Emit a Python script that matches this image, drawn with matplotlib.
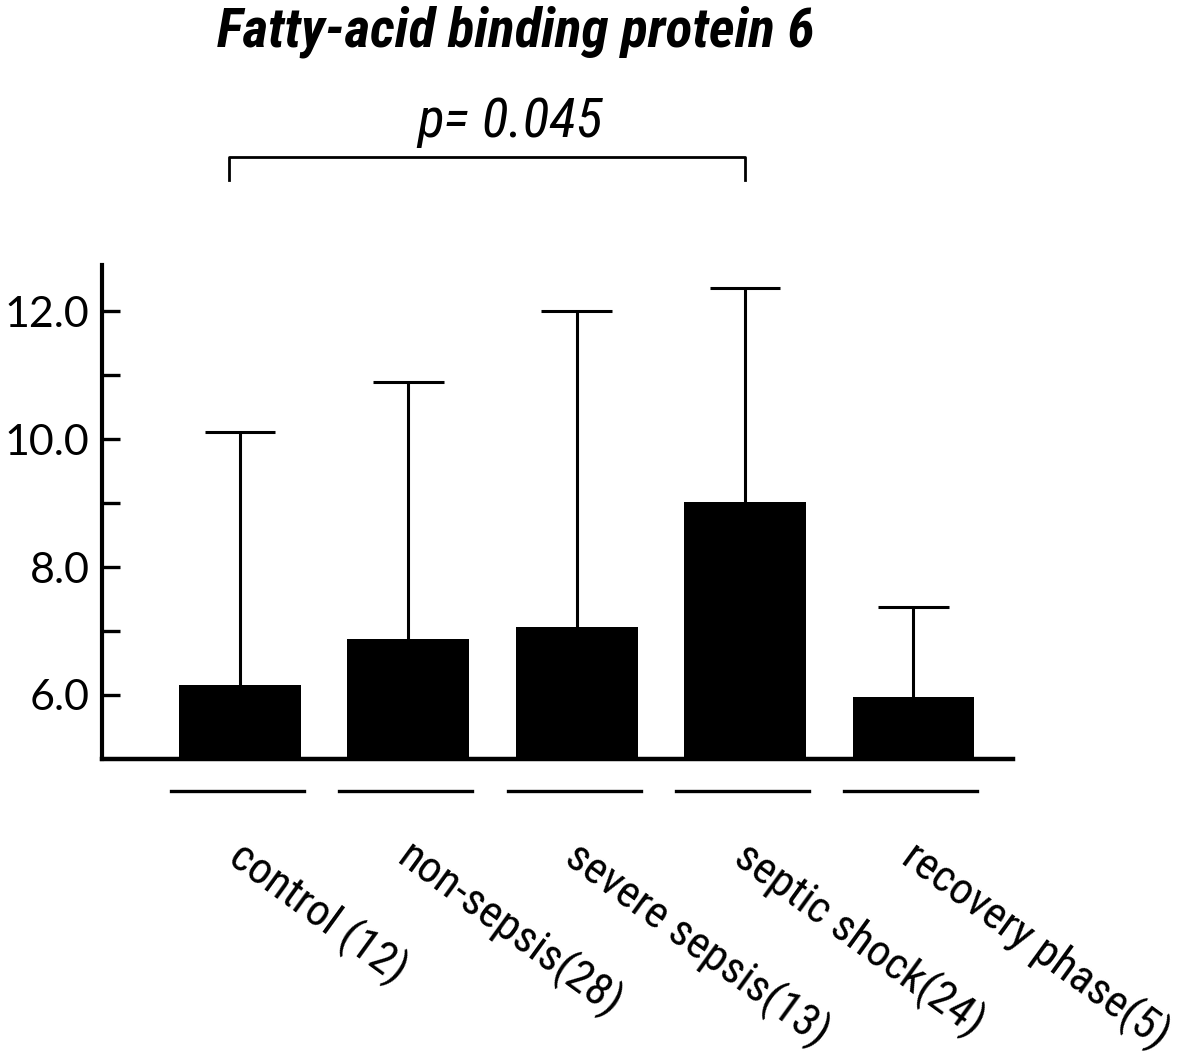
import matplotlib
matplotlib.use("Agg")
import matplotlib.pyplot as plt
import matplotlib.transforms as mtransforms
from matplotlib import font_manager
from matplotlib.font_manager import FontProperties

categories = ["control (12)", "non-sepsis(28)", "severe sepsis(13)", "septic shock(24)", "recovery phase(5)"]
means = [6.15, 6.87, 7.06, 9.02, 5.97]
upper = [10.11, 10.89, 12.0, 12.36, 7.37]
yticks_major = [6.0, 8.0, 10.0, 12.0]
yticks_minor = [7.0, 9.0, 11.0]
ytick_labels = ["6.0", "8.0", "10.0", "12.0"]
title = "Fatty-acid binding protein 6"
p_text = "p= 0.045"

fl = font_manager.fontManager.ttflist


def is_narrow(f):
    n = f.name.lower()
    return ("narrow" in n or "condensed" in n or str(f.stretch) in
            ("condensed", "semi-condensed", "extra-condensed", "ultra-condensed") or
            (isinstance(f.stretch, int) and f.stretch < 500))


def wnum(w):
    try:
        return int(w)
    except Exception:
        return {"bold": 700, "normal": 400, "regular": 400}.get(str(w), 400)


def pick(weight, style):
    pref = ["liberation sans narrow", "roboto condensed", "open sans condensed",
            "dejavu sans", "noto sans", "open sans", "roboto"]
    cands = [f for f in fl if is_narrow(f) and "mono" not in f.name.lower()
             and "serif" not in f.name.lower().replace("sans", "")]
    best, bscore = None, 1e9
    for f in cands:
        n = f.name.lower()
        r = next((k for k, p in enumerate(pref) if p in n), len(pref))
        s = r * 1000 + abs(wnum(f.weight) - weight) + (0 if (f.style != "normal") == (style != "normal") else 500)
        if s < bscore:
            best, bscore = f, s
    return best


def fp(weight, style, size):
    f = pick(weight, style)
    if f is None:
        return FontProperties(family="Liberation Sans", weight="bold" if weight > 500 else "normal",
                              style=style, size=size * 0.85)
    return FontProperties(fname=f.fname, size=size)


lab_fp = fp(400, "normal", 32.5)
title_fp = fp(700, "italic", 40)
p_fp = fp(400, "italic", 40)

names = {f.name for f in fl}
tickfont = "Lato" if "Lato" in names else "DejaVu Sans"

fig = plt.figure(figsize=(12, 10.57), dpi=100)
ax = fig.add_axes([0.085, 0.282, 0.759, 0.467])

x = list(range(len(categories)))
ax.bar(x, means, width=0.724, bottom=0, color="black", zorder=2)
ax.vlines(x, means, upper, color="black", lw=2.2, zorder=1)
ax.hlines(upper, [i - 0.21 for i in x], [i + 0.21 for i in x], color="black", lw=2.2)

ax.set_xlim(-0.82, 4.59)
ax.set_ylim(5.0, 12.72)

for s in ["top", "right"]:
    ax.spines[s].set_visible(False)
ax.spines["left"].set_linewidth(3)
ax.spines["bottom"].set_linewidth(3.2)

ax.set_xticks([])
ax.set_yticks(yticks_major)
ax.set_yticklabels(ytick_labels)
ax.set_yticks(yticks_minor, minor=True)
ax.tick_params(axis="y", which="both", direction="in", length=13, width=2.4, pad=9)
ax.tick_params(axis="y", which="major", labelsize=31)
for lab in ax.get_yticklabels():
    lab.set_fontfamily(tickfont)

trans = mtransforms.blended_transform_factory(ax.transData, ax.transAxes)
for i in x:
    ax.plot([i - 0.41, i + 0.38], [-0.065, -0.065], color="black", lw=2.4,
            transform=trans, clip_on=False)

for i, c in enumerate(categories):
    ax.text(i + 0.04, -0.152, c, transform=trans, rotation=-36, rotation_mode="anchor",
            ha="left", va="top", fontproperties=lab_fp)

ax.plot([-0.065, -0.065, 3.0, 3.0], [14.05, 14.41, 14.41, 14.05], color="black", lw=2,
        clip_on=False)

fig.text(516 / 1200, 1 - 32 / 1057, title, ha="center", va="center", fontproperties=title_fp)
fig.text(510 / 1200, 1 - 122 / 1057, p_text, ha="center", va="center", fontproperties=p_fp)

fig.savefig("out.png", dpi=100)
